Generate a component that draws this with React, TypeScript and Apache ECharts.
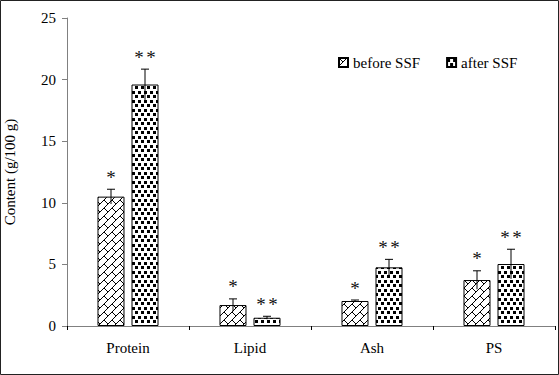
import React, { useEffect, useRef } from "react";
import * as echarts from "echarts";

const categories = ["Protein", "Lipid", "Ash", "PS"];
const beforeValues = [10.5, 1.7, 2.03, 3.73];
const beforeErrors = [0.6, 0.5, 0.08, 0.75];
const afterValues = [19.6, 0.67, 4.76, 5.03];
const afterErrors = [1.25, 0.12, 0.65, 1.2];
const beforeMarks = ["*", "*", "*", "*"];
const afterMarks = ["**", "**", "**", "**"];
const yTicks = [0, 5, 10, 15, 20, 25];

const FONT = "'Liberation Serif', 'DejaVu Serif', serif";

function makeBrick(): HTMLCanvasElement {
  const c = document.createElement("canvas");
  c.width = 8;
  c.height = 8;
  const g = c.getContext("2d")!;
  g.fillStyle = "#fff";
  g.fillRect(0, 0, 8, 8);
  g.strokeStyle = "#000";
  g.lineWidth = 1;
  g.beginPath();
  g.moveTo(-1, 9);
  g.lineTo(9, -1);
  g.moveTo(0, 0);
  g.lineTo(4, 4);
  g.stroke();
  return c;
}

function makeDots(): HTMLCanvasElement {
  const c = document.createElement("canvas");
  c.width = 6;
  c.height = 9;
  const g = c.getContext("2d")!;
  g.fillStyle = "#fff";
  g.fillRect(0, 0, 6, 9);
  g.fillStyle = "#000";
  g.fillRect(0, 1, 3, 3);
  g.fillRect(3, 5, 3, 3);
  return c;
}

export default function App() {
  const ref = useRef<HTMLDivElement>(null);
  useEffect(() => {
    document.body.style.margin = "0";
    const chart = echarts.init(ref.current!, null, { renderer: "svg" });
    const brick = { image: makeBrick(), repeat: "repeat" } as any;
    const dots = { image: makeDots(), repeat: "repeat" } as any;

    const errSeries = (
      name: string,
      values: number[],
      errs: number[],
      marks: string[],
      offset: number
    ) => ({
      type: "custom",
      name: name + "-err",
      z: 5,
      silent: true,
      data: values.map((v, i) => [i, v, errs[i]]),
      encode: { x: 0, y: 1 },
      renderItem: (params: any, api: any) => {
        const i = api.value(0);
        const v = api.value(1);
        const e = api.value(2);
        const top = api.coord([i, v + e]);
        const bot = api.coord([i, v - e]);
        const x = top[0] + offset;
        const mark = marks[i];
        const markY = top[1] - 12;
        const children: any[] = [
          {
            type: "line",
            shape: { x1: x, y1: top[1], x2: x, y2: bot[1] },
            style: { stroke: "#000", lineWidth: 1 },
          },
          {
            type: "line",
            shape: { x1: x - 4, y1: top[1], x2: x + 4, y2: top[1] },
            style: { stroke: "#000", lineWidth: 1 },
          },
        ];
        const xs = mark.length === 2 ? [x - 6, x + 6] : [x];
        xs.forEach((mx) =>
          children.push({
            type: "text",
            x: mx,
            y: markY,
            style: {
              text: "*",
              fontFamily: FONT,
              fontSize: 19,
              fill: "#111",
              align: "center",
              verticalAlign: "middle",
            },
          })
        );
        return { type: "group", children };
      },
    });

    chart.setOption({
      animation: false,
      backgroundColor: "#fff",
      grid: {
        left: 67,
        right: 4,
        top: 18,
        bottom: 49,
        containLabel: false,
        outerBoundsMode: "none",
      },
      legend: {
        data: ["before SSF", "after SSF"],
        left: 333,
        top: 50,
        itemWidth: 9,
        itemHeight: 9,
        itemGap: 26,
        icon: "rect",
        textStyle: { fontFamily: FONT, fontSize: 15, color: "#000" },
      },
      xAxis: {
        type: "category",
        data: categories,
        axisLine: { lineStyle: { color: "#808080" } },
        axisTick: { show: true, length: 4, lineStyle: { color: "#000" } },
        axisLabel: { fontFamily: FONT, fontSize: 15, color: "#000", margin: 14 },
      },
      yAxis: {
        type: "value",
        min: yTicks[0],
        max: yTicks[yTicks.length - 1],
        interval: 5,
        name: "Content (g/100 g)",
        nameLocation: "middle",
        nameGap: 50,
        nameTextStyle: { fontFamily: FONT, fontSize: 15, color: "#000" },
        axisLine: { show: true, lineStyle: { color: "#808080" } },
        axisTick: { show: true, length: 5, lineStyle: { color: "#808080" } },
        axisLabel: { fontFamily: FONT, fontSize: 15, color: "#000", margin: 11 },
        splitLine: { show: false },
      },
      series: [
        {
          type: "bar",
          name: "before SSF",
          data: beforeValues,
          barWidth: 27,
          barGap: "26%",
          itemStyle: { color: brick, borderColor: "#000", borderWidth: 1 },
        },
        {
          type: "bar",
          name: "after SSF",
          data: afterValues,
          barWidth: 27,
          barGap: "26%",
          itemStyle: { color: dots, borderColor: "#000", borderWidth: 1 },
        },
        errSeries("before SSF", beforeValues, beforeErrors, beforeMarks, -17),
        errSeries("after SSF", afterValues, afterErrors, afterMarks, 17),
      ],
      graphic: [
        {
          type: "rect",
          shape: { x: 0.5, y: 0.5, width: 558, height: 374 },
          style: { fill: "none", stroke: "#222", lineWidth: 1 },
          silent: true,
        },
      ],
    });
    return () => chart.dispose();
  }, []);
  return <div ref={ref} style={{ width: 559, height: 375 }} />;
}
